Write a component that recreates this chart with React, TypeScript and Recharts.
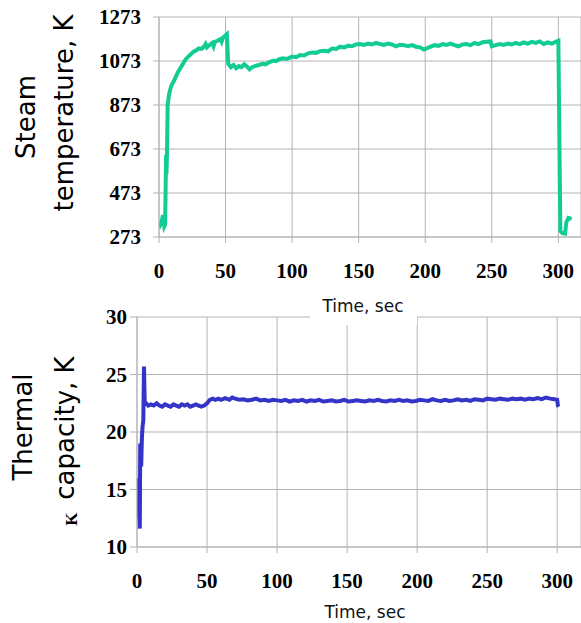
import React from "react";
import { LineChart, Line, XAxis, YAxis, CartesianGrid } from "recharts";

const timeTicks = [0, 50, 100, 150, 200, 250, 300];
const steamTicks = [273, 473, 673, 873, 1073, 1273];
const capTicks = [10, 15, 20, 25, 30];

const steamTime = [
  0, 1, 2, 3, 4, 4.6, 5, 5.3, 5.6, 6,
  6.5, 7.5, 8.5, 9.5, 11, 12.5, 14, 16, 18, 20,
  22, 24, 26, 28, 30, 32, 34, 35, 36, 38,
  40, 41, 42, 44, 46, 47, 48, 50, 51, 52,
  54, 56, 58, 60, 62, 64, 66, 68, 70, 72,
  75, 78, 80, 83, 86, 88, 90, 93, 96, 100,
  103, 106, 109, 112, 115, 118, 121, 124, 127, 130,
  133, 136, 139, 142, 145, 148, 151, 154, 157, 160,
  163, 166, 169, 172, 175, 178, 181, 184, 187, 190,
  193, 196, 199, 201, 204, 207, 210, 213, 216, 219,
  222, 225, 228, 231, 234, 237, 240, 243, 246, 249,
  250, 253, 256, 259, 262, 265, 268, 271, 274, 277,
  280, 283, 286, 289, 292, 295, 298, 300, 301.5, 303,
  305, 306, 307.5, 310,
];
const steamTemp = [
  314, 330, 345, 372, 322, 330, 500, 646, 560, 650,
  873, 920, 945, 965, 980, 1000, 1020, 1040, 1060, 1080,
  1093, 1105, 1115, 1122, 1130, 1128, 1140, 1150, 1135, 1146,
  1155, 1140, 1160, 1165, 1172, 1160, 1178, 1190, 1195, 1060,
  1045, 1055, 1040, 1050, 1045, 1058, 1048, 1035, 1045, 1050,
  1055, 1060, 1058, 1068, 1075, 1072, 1080, 1085, 1082, 1093,
  1090, 1100, 1098, 1108, 1112, 1110, 1118, 1120, 1117, 1130,
  1128, 1138, 1135, 1142, 1140, 1148, 1150, 1146, 1152, 1148,
  1155, 1150, 1146, 1152, 1148, 1140, 1147, 1145, 1140, 1145,
  1138, 1135, 1125, 1130, 1138, 1145, 1142, 1150, 1146, 1152,
  1145, 1140, 1148, 1150, 1145, 1155, 1150, 1158, 1160, 1162,
  1140, 1145, 1150, 1146, 1152, 1148, 1155, 1150, 1158, 1152,
  1160, 1155, 1162, 1150, 1158, 1152, 1160, 1165, 300, 290,
  288, 340, 360, 355,
];

const capTime = [
  0, 0.5, 1, 1.5, 2, 2.3, 2.7, 3, 3.5, 4,
  4.5, 5, 5.5, 6.5, 8, 10, 12, 14, 16, 18,
  20, 22, 24, 26, 28, 30, 32, 34, 36, 38,
  40, 42, 44, 46, 48, 50, 52, 54, 56, 58,
  60, 63, 66, 68,
  70, 73, 76, 79, 82, 85, 88, 91, 94, 97,
  100, 103, 106, 109, 112, 115, 118, 121, 124, 127,
  130, 133, 136, 139, 142, 145, 148, 151, 154, 157,
  160, 163, 166, 169, 172, 175, 178, 181, 184, 187,
  190, 193, 196, 199, 202, 205, 208, 211, 214, 217,
  220, 223, 226, 229, 232, 235, 238, 241, 244, 247,
  250, 253, 256, 259, 262, 265, 268, 271, 274, 277,
  280, 283, 286, 289, 292, 295, 298,
  300, 300.5, 301,
];
const capValue = [
  15, 12.5, 16, 13, 11.6, 19, 18.5, 17, 19.5, 20.5,
  21, 25.7, 22.6, 22.5, 22.3, 22.4, 22.3, 22.5, 22.3, 22.2,
  22.4, 22.3, 22.2, 22.4, 22.3, 22.2, 22.4, 22.3, 22.4, 22.2,
  22.3, 22.4, 22.3, 22.2, 22.3, 22.5, 22.8, 22.9, 22.8, 22.9,
  22.8, 22.95, 22.8, 23.0,
  22.9, 22.8, 22.85, 22.75, 22.8, 22.9, 22.75, 22.8, 22.7, 22.8,
  22.75, 22.7, 22.8, 22.65, 22.75, 22.7, 22.8, 22.65, 22.75, 22.7,
  22.8, 22.65, 22.7, 22.75, 22.65, 22.7, 22.8, 22.65, 22.7, 22.75,
  22.7, 22.65, 22.75, 22.7, 22.8, 22.7, 22.65, 22.75, 22.7, 22.8,
  22.7, 22.75, 22.65, 22.7, 22.8, 22.75, 22.7, 22.85, 22.75, 22.7,
  22.8, 22.7, 22.75, 22.85, 22.75, 22.8, 22.7, 22.85, 22.8, 22.75,
  22.9, 22.85, 22.8, 22.9, 22.85, 22.8, 22.9, 22.85, 22.9, 22.8,
  22.9, 22.85, 22.95, 22.85, 23.0, 22.9, 22.85,
  22.8, 22.3, 22.2,
];

const steamData = steamTime.map((t, i) => ({ t, v: steamTemp[i] }));
const capData = capTime.map((t, i) => ({ t, v: capValue[i] }));

const gridColor = "#b4b4b4";
const serifFont = "'Liberation Serif', 'Times New Roman', 'DejaVu Serif', serif";
const labelFont = "'DejaVu Sans', sans-serif";

function SerifTick(props: any) {
  const { x, y, payload, textAnchor, orientation } = props;
  const dy = orientation === "bottom" ? "0.71em" : "0.35em";
  return (
    <text
      x={x}
      y={y}
      dy={dy}
      textAnchor={textAnchor}
      style={{ fontFamily: serifFont, fontWeight: 700, fontSize: 21 }}
      fill="#000"
    >
      {payload.value}
    </text>
  );
}

export default function App() {
  return (
    <div style={{ position: "absolute", left: 0, top: 0, width: 581, height: 623, background: "#fff" }}>
      <div style={{ position: "absolute", left: 0, top: 0 }}>
        <LineChart width={581} height={300} data={steamData} margin={{ top: 17, right: 0, bottom: 33, left: 0 }}>
          <CartesianGrid stroke={gridColor} />
          <XAxis
            dataKey="t"
            type="number"
            domain={[0, 317]}
            ticks={timeTicks}
            allowDataOverflow
            height={30}
            tickSize={6}
            tickMargin={20}
            stroke={gridColor}
            tick={<SerifTick />}
            interval={0}
          />
          <YAxis
            type="number"
            domain={[273, 1273]}
            ticks={steamTicks}
            allowDataOverflow
            width={159}
            tickSize={6}
            tickMargin={12}
            stroke={gridColor}
            tick={<SerifTick />}
            interval={0}
          />
          <Line
            dataKey="v"
            type="linear"
            stroke="#12cc94"
            strokeWidth={4}
            dot={false}
            isAnimationActive={false}
          />
        </LineChart>
      </div>
      <div style={{ position: "absolute", left: 0, top: 300 }}>
        <LineChart width={581} height={323} data={capData} margin={{ top: 17, right: 0, bottom: 46, left: 0 }}>
          <CartesianGrid stroke={gridColor} />
          <XAxis
            dataKey="t"
            type="number"
            domain={[0, 317]}
            ticks={timeTicks}
            allowDataOverflow
            height={30}
            tickSize={6}
            tickMargin={20}
            stroke={gridColor}
            tick={<SerifTick />}
            interval={0}
          />
          <YAxis
            type="number"
            domain={[10, 30]}
            ticks={capTicks}
            allowDataOverflow
            width={137}
            tickSize={7}
            tickMargin={3}
            stroke={gridColor}
            tick={<SerifTick />}
            interval={0}
          />
          <Line
            dataKey="v"
            type="linear"
            stroke="#3434c8"
            strokeWidth={4}
            dot={false}
            isAnimationActive={false}
          />
        </LineChart>
      </div>
      <svg
        width={581}
        height={623}
        style={{ position: "absolute", left: 0, top: 0, pointerEvents: "none" }}
      >
        <text x={35} y={117} transform="rotate(-90 35 117)" textAnchor="middle" style={{ fontFamily: labelFont, fontSize: 26 }} fill="#000">
          Steam
        </text>
        <text x={73} y={113} transform="rotate(-90 73 113)" textAnchor="middle" style={{ fontFamily: labelFont, fontSize: 26 }} fill="#000">
          temperature, K
        </text>
        <text x={32} y={427} transform="rotate(-90 32 427)" textAnchor="middle" style={{ fontFamily: labelFont, fontSize: 26 }} fill="#000">
          Thermal
        </text>
        <text x={74} y={428} transform="rotate(-90 74 428)" textAnchor="middle" style={{ fontFamily: labelFont, fontSize: 26 }} fill="#000">
          capacity, K
        </text>
        <text x={77} y={519} transform="rotate(-90 77 519)" textAnchor="middle" style={{ fontFamily: serifFont, fontWeight: 700, fontSize: 17 }} fill="#000">
          K
        </text>
        <rect x={310} y={295} width={107} height={30} fill="#fff" />
        <text x={363} y={312} textAnchor="middle" style={{ fontFamily: labelFont, fontSize: 17 }} fill="#111">
          Time, sec
        </text>
        <text x={365} y={618} textAnchor="middle" style={{ fontFamily: labelFont, fontSize: 17 }} fill="#111">
          Time, sec
        </text>
      </svg>
    </div>
  );
}
